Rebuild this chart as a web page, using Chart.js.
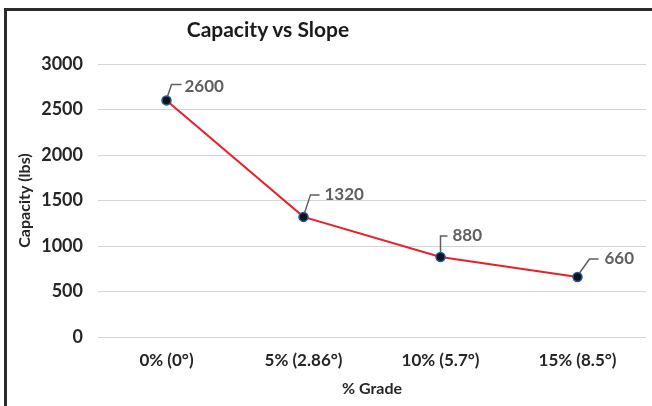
<!DOCTYPE html>
<html>
<head>
<meta charset="utf-8">
<script src="https://cdn.jsdelivr.net/npm/chart.js@4/dist/chart.umd.min.js"></script>
<style>
  html, body { margin: 0; padding: 0; background: #ffffff; }
  #wrap { position: relative; width: 652px; height: 406px; overflow: hidden; background: #fff; }
  #frame { position: absolute; left: 4px; top: 8px; width: 660px; height: 410px;
           border-left: 3px solid #2b2b2b; border-top: 3px solid #2b2b2b; box-sizing: border-box; }
  #title { position: absolute; left: 118px; width: 300px; top: 16px; text-align: center;
           font: bold 21px Lato, sans-serif; line-height: 25px; color: #1a1a1a; }
  canvas { position: absolute; left: 0; top: 0; }
</style>
</head>
<body>
<div id="wrap">
  <div id="frame"></div>
  <canvas id="c" width="652" height="406"></canvas>
  <div id="title">Capacity vs Slope</div>
</div>
<script>
const categories = ["0% (0°)", "5% (2.86°)", "10% (5.7°)", "15% (8.5°)"];
const capacity = [2600, 1320, 880, 660];
const yTicks = [0, 500, 1000, 1500, 2000, 2500, 3000];

// leader geometry for each data label (relative to its point): start, corner, end, text start
const labelLayout = [
  { sx: 1, sy: -4, cx: 5, cy: -16, ex: 15, ey: -16, tx: 18, ty: -14 },
  { sx: 1, sy: -4, cx: 7, cy: -22, ex: 16, ey: -22, tx: 21, ty: -22 },
  { sx: 0, sy: -5, cx: 0, cy: -21, ex: 7, ey: -21, tx: 12, ty: -21 },
  { sx: 2, sy: -4, cx: 12, cy: -18, ex: 21, ey: -18, tx: 27, ty: -18 }
];

const dataLabels = {
  id: 'dataLabels',
  afterDatasetsDraw(chart) {
    const ctx = chart.ctx;
    const meta = chart.getDatasetMeta(0);
    const ds = chart.data.datasets[0];
    ctx.save();
    meta.data.forEach((pt, i) => {
      const L = labelLayout[i];
      ctx.strokeStyle = '#5f5f5f';
      ctx.lineWidth = 1.5;
      ctx.beginPath();
      ctx.moveTo(pt.x + L.sx, pt.y + L.sy);
      ctx.lineTo(pt.x + L.cx, pt.y + L.cy);
      ctx.lineTo(pt.x + L.ex, pt.y + L.ey);
      ctx.stroke();
      ctx.fillStyle = '#5f5f5f';
      ctx.font = 'bold 17px Lato, sans-serif';
      ctx.textAlign = 'left';
      ctx.textBaseline = 'middle';
      ctx.fillText(String(ds.data[i]), pt.x + L.tx, pt.y + L.ty);
    });
    ctx.restore();
  }
};

new Chart(document.getElementById('c'), {
  type: 'line',
  data: {
    labels: categories,
    datasets: [{
      data: capacity,
      borderColor: '#e8202a',
      borderWidth: 2,
      pointRadius: 4.5,
      pointBackgroundColor: '#141414',
      pointBorderColor: '#1f5aa6',
      pointBorderWidth: 1.5,
      tension: 0,
      fill: false
    }]
  },
  options: {
    responsive: false,
    animation: false,
    devicePixelRatio: 1,
    layout: { padding: { left: 0, right: 3, top: 64, bottom: 0 } },
    plugins: { legend: { display: false }, tooltip: { enabled: false }, title: { display: false } },
    scales: {
      x: {
        offset: true,
        grid: { display: false, drawTicks: false },
        border: { display: false },
        ticks: { color: '#262626', font: { family: 'Lato', weight: 'bold', size: 17 }, padding: 13, maxRotation: 0 },
        title: { display: true, text: '% Grade', color: '#262626',
                 font: { family: 'Lato', weight: 'bold', size: 16 }, padding: { top: 0, bottom: 8 } },
        afterFit(scale) { scale.height = 69; }
      },
      y: {
        min: 0, max: 3000,
        afterBuildTicks(scale) { scale.ticks = yTicks.map(v => ({ value: v })); },
        grid: { color: '#d4d4d4', lineWidth: 1, drawTicks: false },
        border: { display: false },
        ticks: { color: '#262626', font: { family: 'Lato', weight: 'bold', size: 18 }, padding: 15,
                 callback: (v) => String(v) },
        title: { display: true, text: 'Capacity (lbs)', color: '#262626',
                 font: { family: 'Lato', weight: 'bold', size: 16 }, padding: { top: 15, bottom: 0 } },
        afterFit(scale) { scale.width = 98; }
      }
    }
  },
  plugins: [dataLabels]
});
</script>
</body>
</html>
